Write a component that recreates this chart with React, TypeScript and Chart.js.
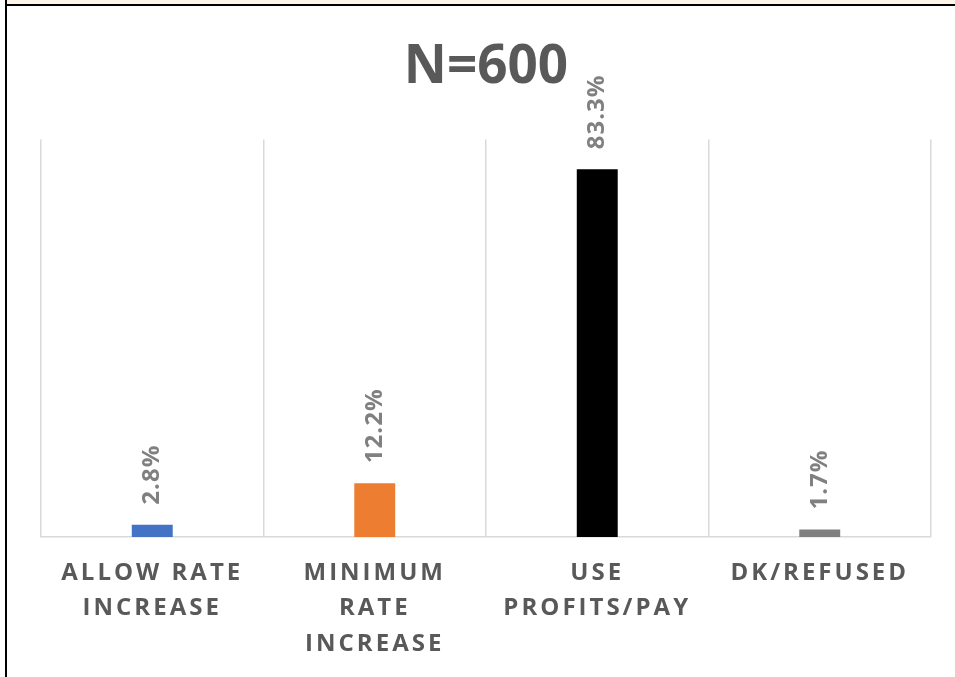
import React, { useEffect, useRef } from "react";
import { Chart, registerables } from "chart.js";

Chart.register(...registerables);

const categories: string[][] = [
  ["ALLOW RATE", "INCREASE"],
  ["MINIMUM", "RATE", "INCREASE"],
  ["USE", "PROFITS/PAY"],
  ["DK/REFUSED"],
];
const values: number[] = [2.8, 12.2, 83.3, 1.7];
const valueLabels: string[] = ["2.8%", "12.2%", "83.3%", "1.7%"];
const barColors: string[] = ["#4472C4", "#ED7D31", "#000000", "#808080"];
const chartTitle = "N=600";
const yMin = 0;
const yMax = 90;

const valueLabelPlugin = {
  id: "valueLabels",
  afterDatasetsDraw(chart: any) {
    const ctx = chart.ctx as CanvasRenderingContext2D;
    const meta = chart.getDatasetMeta(0);
    ctx.save();
    ctx.font = 'bold 24px "Open Sans"';
    ctx.fillStyle = "#808080";
    (ctx as any).letterSpacing = "1px";
    ctx.textAlign = "left";
    ctx.textBaseline = "middle";
    meta.data.forEach((el: any, i: number) => {
      const { x, y } = el.getProps(["x", "y"], true);
      ctx.save();
      ctx.translate(x, y - 20);
      ctx.rotate(-Math.PI / 2);
      ctx.fillText(valueLabels[i], 0, 0);
      ctx.restore();
    });
    ctx.restore();
    // letter spacing for the category labels drawn next (ticks z = 1)
    (ctx as any).letterSpacing = "3px";
  },
  afterDraw(chart: any) {
    (chart.ctx as any).letterSpacing = "0px";
  },
};

export default function App() {
  const canvasRef = useRef<HTMLCanvasElement | null>(null);

  useEffect(() => {
    if (!canvasRef.current) return;
    const chart = new Chart(canvasRef.current, {
      type: "bar",
      data: {
        labels: categories,
        datasets: [
          {
            data: values,
            backgroundColor: barColors,
            borderWidth: 0,
            categoryPercentage: 1,
            barPercentage: 0.184,
          },
        ],
      },
      options: {
        responsive: false,
        animation: false,
        devicePixelRatio: 1,
        layout: { padding: { left: 41, right: 24, top: 0, bottom: 0 } },
        plugins: {
          legend: { display: false },
          tooltip: { enabled: false },
          title: {
            display: true,
            text: chartTitle,
            color: "#595959",
            font: { family: '"Open Sans"', size: 53, weight: "bold", lineHeight: 1.2 },
            padding: { top: 36, bottom: 40 },
          },
        },
        scales: {
          x: {
            grid: {
              display: true,
              color: "#D9D9D9",
              lineWidth: 1.5,
              drawTicks: false,
              offset: true,
            },
            border: { display: true, color: "#D9D9D9", width: 1.5 },
            ticks: {
              z: 1,
              color: "#595959",
              font: { family: '"Open Sans"', size: 24, weight: "bold", lineHeight: 1.48 },
              padding: 18,
              maxRotation: 0,
              minRotation: 0,
              autoSkip: false,
            },
            afterFit: (scale: any) => {
              scale.height = 140;
            },
          },
          y: {
            display: false,
            min: yMin,
            max: yMax,
          },
        },
      },
      plugins: [valueLabelPlugin],
    });
    return () => chart.destroy();
  }, []);

  return (
    <div
      style={{
        position: "fixed",
        left: 0,
        top: 0,
        width: 955,
        height: 677,
        background: "#FFFFFF",
        overflow: "hidden",
      }}
    >
      <div style={{ position: "absolute", left: 7, top: 0, width: 948, height: 4, background: "#FDF6E8" }} />
      <div style={{ position: "absolute", left: 5, top: 4, width: 950, height: 2, background: "#000000" }} />
      <div style={{ position: "absolute", left: 5, top: 0, width: 2, height: 677, background: "#000000" }} />
      <canvas
        ref={canvasRef}
        width={955}
        height={677}
        style={{ position: "absolute", left: 0, top: 0, width: 955, height: 677 }}
      />
    </div>
  );
}
